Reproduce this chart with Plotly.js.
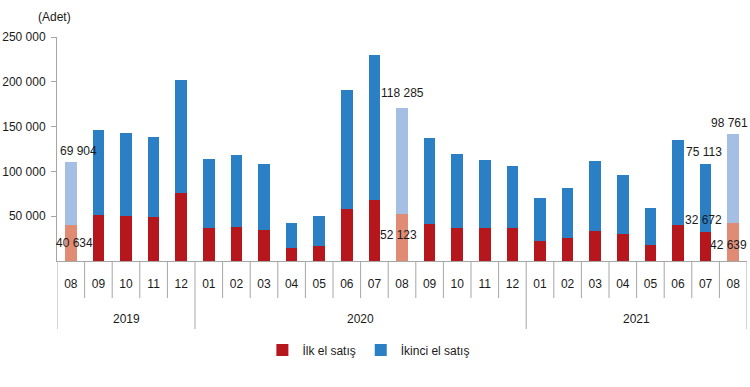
<!DOCTYPE html>
<html>
<head>
<meta charset="utf-8">
<script src="https://cdn.plot.ly/plotly-3.0.1.min.js"></script>
<style>html,body{margin:0;padding:0;background:#fff;}#chart{width:750px;height:387px;}</style>
</head>
<body>
<div id="chart"></div>
<script>
// ---- data ----
const years  = ['2019','2019','2019','2019','2019',
                '2020','2020','2020','2020','2020','2020','2020','2020','2020','2020','2020','2020',
                '2021','2021','2021','2021','2021','2021','2021','2021'];
const months = ['08','09','10','11','12',
                '01','02','03','04','05','06','07','08','09','10','11','12',
                '01','02','03','04','05','06','07','08'];
const firstSale  = [40634, 51300, 50200, 49100, 75900,
                    36800, 37900, 34300, 14500, 16700, 58400, 67700, 52123, 41700, 36800, 36800, 36800,
                    22700, 25300, 33100, 29800, 18200, 40200, 32672, 42639];
const secondSale = [69904, 95200, 93000, 89300, 126100,
                    77400, 80700, 74200, 27900, 33900, 132100, 162200, 118285, 95600, 83000, 75900, 69200,
                    47300, 56500, 78900, 65800, 40600, 94800, 75113, 98761];
const yTickVals = [50000, 100000, 150000, 200000, 250000];
const yTickText = ['50 000', '100 000', '150 000', '200 000', '250 000'];
const labelledIdx = [0, 12, 23, 24];
const highlightIdx = [0, 12, 24];
const seriesNames = ['İlk el satış', 'İkinci el satış'];

// ---- styling ----
const RED = '#b5171c', RED_L = '#e08b74', BLUE = '#2a7fc5', BLUE_L = '#a4bfe3';
const GRAY = '#a6a6a6';
const FONT = {family: '"Liberation Sans", Arial, sans-serif', size: 12, color: '#1a1a1a'};
const fmt = v => String(v).replace(/\B(?=(\d{3})+(?!\d))/g, ' ');

const keys = years.map((y, i) => y + '-' + months[i]);
const isHL = keys.map((k, i) => highlightIdx.includes(i));
const pick = (arr, wantHL) => arr.map((v, i) => (isHL[i] === wantHL ? v : null));

const bar = (name, y, color, show) => ({type: 'bar', name: name, x: keys, y: y,
  marker: {color: color}, showlegend: show, hoverinfo: 'none'});
const traces = [
  bar(seriesNames[0], pick(firstSale, false), RED, true),
  bar(seriesNames[0] + ' (vurgu)', pick(firstSale, true), RED_L, false),
  bar(seriesNames[1], pick(secondSale, false), BLUE, true),
  bar(seriesNames[1] + ' (vurgu)', pick(secondSale, true), BLUE_L, false)
];

// value labels (pixel offsets)
const upperShift = {0: [8, 2], 12: [0, 6], 23: [-2, 3], 24: [-4, 2]};
const lowerCfg   = {0: ['base', 4, 9], 12: ['base', -4, 17], 23: ['top', -2, 3], 24: ['base', -5, 7]};
const annotations = [];
labelledIdx.forEach(i => {
  const total = firstSale[i] + secondSale[i];
  annotations.push({xref: 'x', yref: 'y', x: i, y: total, text: fmt(secondSale[i]),
    showarrow: false, yanchor: 'bottom', xanchor: 'center',
    xshift: upperShift[i][0], yshift: upperShift[i][1], font: FONT});
  const c = lowerCfg[i];
  annotations.push({xref: 'x', yref: 'y', x: i, y: c[0] === 'base' ? 0 : firstSale[i], text: fmt(firstSale[i]),
    showarrow: false, yanchor: 'bottom', xanchor: 'center',
    xshift: c[1], yshift: c[2], font: FONT});
});
annotations.push({xref: 'paper', yref: 'paper', x: -0.004, y: 1.09, text: '(Adet)',
  showarrow: false, xanchor: 'center', yanchor: 'middle', font: FONT});

// year group labels + dividers, month separators
const shapes = [];
const groups = [];
years.forEach((y, i) => {
  if (!groups.length || groups[groups.length - 1].year !== y) groups.push({year: y, start: i, end: i});
  else groups[groups.length - 1].end = i;
});
const PLOT_H = 224;
groups.forEach(g => {
  annotations.push({xref: 'x', yref: 'paper', x: (g.start + g.end) / 2, y: -(319 - 261) / PLOT_H,
    text: g.year, showarrow: false, xanchor: 'center', yanchor: 'middle', font: FONT});
  shapes.push({type: 'line', xref: 'x', yref: 'paper', x0: g.start - 0.5, x1: g.start - 0.5,
    y0: 0, y1: -(329 - 261) / PLOT_H, line: {color: GRAY, width: 1}});
});
const lastG = groups[groups.length - 1];
shapes.push({type: 'line', xref: 'x', yref: 'paper', x0: lastG.end + 0.5, x1: lastG.end + 0.5,
  y0: 0, y1: -(329 - 261) / PLOT_H, line: {color: GRAY, width: 1}});
for (let i = 1; i < months.length; i++) {
  if (years[i] !== years[i - 1]) continue;
  shapes.push({type: 'line', xref: 'x', yref: 'paper', x0: i - 0.5, x1: i - 0.5,
    y0: 0, y1: -(298 - 261) / PLOT_H, line: {color: GRAY, width: 1}});
}

const layout = {
  width: 750, height: 387,
  margin: {l: 57, r: 3, t: 37, b: 126},
  barmode: 'stack', bargap: 0.58,
  paper_bgcolor: '#fff', plot_bgcolor: '#fff',
  font: FONT,
  showlegend: true,
  legend: {orientation: 'h', x: 0.452, xanchor: 'center', y: -0.397, yanchor: 'middle',
    font: FONT, itemwidth: 30, traceorder: 'normal'},
  xaxis: {type: 'category', range: [-0.5, keys.length - 0.5], showline: true, linecolor: GRAY, linewidth: 1,
    ticks: '', showgrid: false, zeroline: false, tickfont: FONT,
    tickmode: 'array', tickvals: keys, ticktext: months, tickangle: 0, ticklabelstandoff: 12},
  yaxis: {range: [0, 250000], showline: true, linecolor: GRAY, linewidth: 1,
    ticks: 'outside', ticklen: 5, tickcolor: GRAY, showgrid: false, zeroline: false,
    tickvals: yTickVals, ticktext: yTickText, tickfont: FONT, ticklabelstandoff: 3, fixedrange: true},
  annotations: annotations,
  shapes: shapes
};

Plotly.newPlot('chart', traces, layout, {displayModeBar: false, staticPlot: true});
</script>
</body>
</html>
